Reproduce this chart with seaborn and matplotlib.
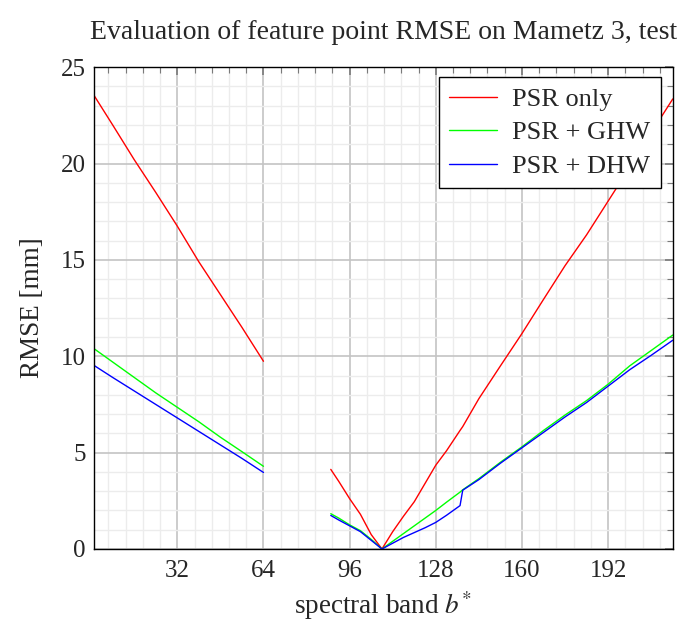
import numpy as np
import pandas as pd
import matplotlib
matplotlib.use("Agg")
import matplotlib.pyplot as plt
from matplotlib.ticker import MultipleLocator
import seaborn as sns

# ---- data ----
left_x = [1, 8, 16, 24, 32, 40, 48, 56, 64]
red_left = [23.55, 22.0, 20.2, 18.5, 16.75, 14.9, 13.2, 11.5, 9.74]
green_left = [10.4, 9.7, 8.9, 8.1, 7.35, 6.6, 5.8, 5.05, 4.29]
blue_left = [9.53, 8.9, 8.2, 7.5, 6.8, 6.1, 5.4, 4.7, 3.97]

right_x = [89, 92, 96, 100, 104, 108, 112, 116, 120, 124, 128, 132, 137, 138,
           144, 152, 160, 168, 176, 184, 192, 200, 208, 216]
red_right = [4.13, 3.5, 2.61, 1.8, 0.75, 0.0, 0.9, 1.7, 2.45, 3.4, 4.35, 5.1, 6.15, 6.35,
             7.8, 9.5, 11.18, 12.95, 14.7, 16.3, 18.05, 19.8, 21.6, 23.35]
green_right = [1.83, 1.6, 1.25, 0.95, 0.5, 0.0, 0.4, 0.8, 1.2, 1.6, 2.0, 2.43, 2.95, 3.07,
               3.65, 4.5, 5.3, 6.15, 6.95, 7.7, 8.55, 9.5, 10.3, 11.1]
blue_right = [1.74, 1.5, 1.2, 0.9, 0.45, 0.0, 0.3, 0.6, 0.85, 1.1, 1.38, 1.75, 2.25, 3.05,
              3.6, 4.45, 5.25, 6.05, 6.85, 7.6, 8.45, 9.3, 10.05, 10.83]

methods = ["PSR only", "PSR + GHW", "PSR + DHW"]
colors = ["#ff0000", "#00ff00", "#0000ff"]

rows = []
for m, yl, yr in zip(methods, [red_left, green_left, blue_left],
                     [red_right, green_right, blue_right]):
    for x, y in zip(left_x, yl):
        rows.append((m, "a", x, y))
    for x, y in zip(right_x, yr):
        rows.append((m, "b", x, y))
df = pd.DataFrame(rows, columns=["method", "segment", "band", "rmse"])

sns.set_theme(style="white")
plt.rcParams["font.family"] = ["Liberation Serif", "DejaVu Serif"]
plt.rcParams["mathtext.fontset"] = "stix"

fig = plt.figure(figsize=(6.9, 6.22), dpi=100)
ax = fig.add_axes([0.136, 0.1174, 0.839, 0.7746])

sns.lineplot(data=df, x="band", y="rmse", hue="method", units="segment",
             estimator=None, palette=colors, hue_order=methods, lw=1.0, ax=ax)

ax.set_xlim(1, 216)
ax.set_ylim(0, 25)
ax.xaxis.set_major_locator(MultipleLocator(32))
ax.xaxis.set_minor_locator(MultipleLocator(6.4))
ax.yaxis.set_major_locator(MultipleLocator(5))
ax.yaxis.set_minor_locator(MultipleLocator(1))

ax.grid(which="major", color="#c4c4c4", lw=1.2)
ax.grid(which="minor", color="#ececec", lw=1.0)
ax.set_axisbelow(True)

ax.tick_params(which="both", direction="in", top=True, right=True, color="#7a7a7a")
ax.tick_params(which="major", length=6, width=1.2, labelsize=18)
ax.tick_params(axis="x", which="major", pad=8)
ax.tick_params(axis="y", which="major", pad=6)
ax.tick_params(which="minor", length=4, width=0.8)
for s in ax.spines.values():
    s.set_color("black")
    s.set_linewidth(1.0)

ax.set_xlabel("spectral band $b^{*}$", fontsize=19.5, labelpad=5)
ax.set_ylabel("RMSE [mm]", fontsize=19.5, labelpad=11)
ax.set_title("Evaluation of feature point RMSE on Mametz 3, test", fontsize=20, pad=20)

leg = ax.legend(loc="upper right", bbox_to_anchor=(0.98, 0.98), fontsize=19,
                frameon=True, fancybox=False, edgecolor="black", framealpha=1,
                handlelength=1.8, borderpad=0.4, labelspacing=0.38, handletextpad=0.6,
                borderaxespad=0.0)
leg.get_frame().set_linewidth(1.0)

fig.savefig("out.png", dpi=100)
